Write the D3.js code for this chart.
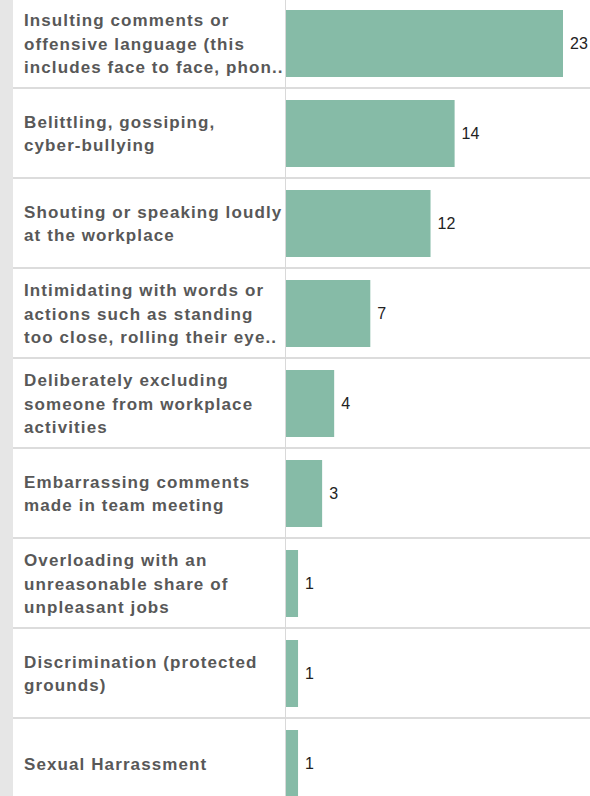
<!DOCTYPE html>
<html>
<head>
<meta charset="utf-8">
<script src="https://cdn.jsdelivr.net/npm/d3@7"></script>
<style>
  body { margin: 0; background: #fff; }
  svg { display: block; }
</style>
</head>
<body>
<div id="chart"></div>
<script>
// Chart data
const categories = [
  "Insulting comments or offensive language (this includes face to face, phon..",
  "Belittling, gossiping, cyber-bullying",
  "Shouting or speaking loudly at the workplace",
  "Intimidating with words or actions such as standing too close, rolling their eye..",
  "Deliberately excluding someone from workplace activities",
  "Embarrassing comments made in team meeting",
  "Overloading with an unreasonable share of unpleasant jobs",
  "Discrimination (protected grounds)",
  "Sexual Harrassment"
];
const labelLines = [
  ["Insulting comments or", "offensive language (this", "includes face to face, phon.."],
  ["Belittling, gossiping,", "cyber-bullying"],
  ["Shouting or speaking loudly", "at the workplace"],
  ["Intimidating with words or", "actions such as standing", "too close, rolling their eye.."],
  ["Deliberately excluding", "someone from workplace", "activities"],
  ["Embarrassing comments", "made in team meeting"],
  ["Overloading with an", "unreasonable share of", "unpleasant jobs"],
  ["Discrimination (protected", "grounds)"],
  ["Sexual Harrassment"]
];
const counts = [23, 14, 12, 7, 4, 3, 1, 1, 1];

const width = 590;
const height = 796;
const axisX = 286;
const font = "'Liberation Sans', Arimo, Arial, sans-serif";

const svg = d3.select("#chart")
    .append("svg")
    .attr("width", width)
    .attr("height", height);

const rows = categories.map((c, i) => ({ cat: c, lines: labelLines[i], value: counts[i] }));

// Scales
const x = d3.scaleLinear().domain([0, 23]).range([axisX, 563]);
const y = d3.scaleBand().domain(categories).range([-2, 808]);

// left grey strip
svg.append("rect")
    .attr("x", 0).attr("y", 0)
    .attr("width", 13).attr("height", height)
    .attr("fill", "#e6e6e6");

// row separators
svg.selectAll("line.sep")
    .data(categories.slice(1))
    .enter()
    .append("line")
    .attr("class", "sep")
    .attr("x1", 13).attr("x2", width)
    .attr("y1", d => y(d))
    .attr("y2", d => y(d))
    .attr("stroke", "#dcdcdc")
    .attr("stroke-width", 2);

// divider between labels and bars
svg.append("line")
    .attr("x1", axisX - 0.5).attr("x2", axisX - 0.5)
    .attr("y1", 0).attr("y2", height)
    .attr("stroke", "#d9d9d9")
    .attr("stroke-width", 1);

// bars
svg.selectAll("rect.bar")
    .data(rows)
    .enter()
    .append("rect")
    .attr("class", "bar")
    .attr("x", x(0))
    .attr("y", d => y(d.cat) + 12)
    .attr("width", d => x(d.value) - x(0))
    .attr("height", y.bandwidth() - 23)
    .attr("fill", "#86bba7");

// value labels
svg.selectAll("text.val")
    .data(rows)
    .enter()
    .append("text")
    .attr("class", "val")
    .attr("x", d => x(d.value) + 7)
    .attr("y", d => y(d.cat) + 12 + (y.bandwidth() - 23) / 2)
    .attr("dy", "0.36em")
    .attr("font-family", font)
    .attr("font-size", 16)
    .attr("fill", "#222")
    .text(d => d.value);

// category labels
const lineH = 23.5;
const labels = svg.selectAll("text.cat")
    .data(rows)
    .enter()
    .append("text")
    .attr("class", "cat")
    .attr("font-family", font)
    .attr("font-size", 17)
    .attr("font-weight", "bold")
    .attr("letter-spacing", 1.1)
    .attr("fill", "#585858");

labels.selectAll("tspan")
    .data(d => d.lines.map((t, i) => ({ t, i, n: d.lines.length, c: y(d.cat) + y.bandwidth() / 2 })))
    .enter()
    .append("tspan")
    .attr("x", 24)
    .attr("y", d => d.c + (d.i - (d.n - 1) / 2) * lineH + 0.5)
    .attr("dy", "0.36em")
    .text(d => d.t);
</script>
</body>
</html>
